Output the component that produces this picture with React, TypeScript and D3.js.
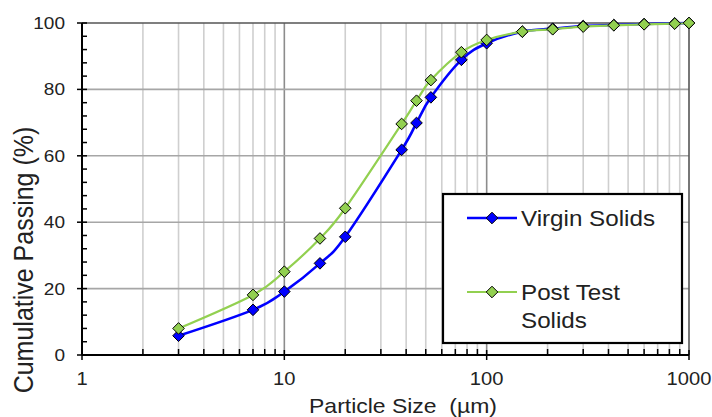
import React from 'react';
import * as d3 from 'd3';

// particle sizes (µm) and cumulative passing (%)
const sizes = [3, 7, 10, 15, 20, 38, 45, 53, 75, 100, 150, 212, 300, 425, 600, 850, 1000];
const virginSolids = [5.8, 13.6, 19.1, 27.6, 35.6, 61.8, 69.9, 77.6, 88.9, 93.9, 97.4, 98.3, 99.1, 99.4, 99.7, 99.9, 100];
const postTestSolids = [8.0, 18.1, 25.1, 35.1, 44.2, 69.6, 76.6, 82.8, 91.2, 94.9, 97.4, 98.1, 98.9, 99.3, 99.6, 99.8, 100];

const xTicks = [1, 10, 100, 1000];
const yTicks = [0, 20, 40, 60, 80, 100];

const series = [
  { name: 'Virgin Solids', values: virginSolids, color: '#0000FF', width: 2.6 },
  { name: 'Post Test Solids', values: postTestSolids, color: '#92D050', width: 2.2 },
];

const W = 712;
const H = 417;
const left = 82, right = 689, top = 23, bottom = 355;
const FONT = '"Liberation Sans", Arial, sans-serif';
const SX = 1.12; // horizontal stretch of the source picture

const diamond = (cx: number, cy: number, r: number) =>
  `M${cx},${cy - r}L${cx + r},${cy}L${cx},${cy + r}L${cx - r},${cy}Z`;

export default function App() {
  const x = d3.scaleLog().domain([1, 1000]).range([left, right]);
  const y = d3.scaleLinear().domain([0, 100]).range([bottom, top]);

  const minorX: number[] = [];
  [1, 10, 100].forEach(d => {
    for (let k = 2; k <= 9; k++) minorX.push(d * k);
  });
  const minorY = d3.range(0, 101, 4).filter(v => v % 20 !== 0);

  const line = d3.line<number>()
    .x((_, i) => x(sizes[i]))
    .y(d => y(d))
    .curve(d3.curveCatmullRom.alpha(0));

  return (
    <svg width={W} height={H} style={{ position: 'absolute', left: 0, top: 0, background: '#fff' }}>
      {/* grid */}
      {minorX.map(v => (
        <line key={'mx' + v} x1={x(v)} x2={x(v)} y1={top} y2={bottom} stroke="#cfcfcf" strokeWidth={1.6} />
      ))}
      {[10, 100].map(v => (
        <line key={'Mx' + v} x1={x(v)} x2={x(v)} y1={top} y2={bottom} stroke="#8c8c8c" strokeWidth={1.6} />
      ))}
      {yTicks.slice(1, -1).map(v => (
        <line key={'gy' + v} x1={left} x2={right} y1={y(v)} y2={y(v)} stroke="#a6a6a6" strokeWidth={1.6} />
      ))}
      <line x1={left} x2={right} y1={top} y2={top} stroke="#555" strokeWidth={1.6} />
      <line x1={right} x2={right} y1={top} y2={bottom} stroke="#555" strokeWidth={1.6} />

      {/* axes */}
      <line x1={left} x2={left} y1={top} y2={bottom} stroke="#000" strokeWidth={2} />
      <line x1={left} x2={right} y1={bottom} y2={bottom} stroke="#000" strokeWidth={2} />
      {yTicks.map(v => (
        <line key={'ty' + v} x1={left - 5} x2={left + 5} y1={y(v)} y2={y(v)} stroke="#000" strokeWidth={1.5} />
      ))}
      {minorY.map(v => (
        <line key={'tmy' + v} x1={left} x2={left + 5} y1={y(v)} y2={y(v)} stroke="#000" strokeWidth={1.5} />
      ))}
      {xTicks.map(v => (
        <line key={'tx' + v} x1={x(v)} x2={x(v)} y1={bottom - 5} y2={bottom + 5} stroke="#000" strokeWidth={1.5} />
      ))}
      {minorX.map(v => (
        <line key={'tmx' + v} x1={x(v)} x2={x(v)} y1={bottom - 6} y2={bottom} stroke="#000" strokeWidth={1.5} />
      ))}

      {/* tick labels */}
      {yTicks.map(v => (
        <text key={'ly' + v} transform={`translate(65,${y(v) + 6}) scale(${SX},1)`} textAnchor="end"
          fontFamily={FONT} fontSize={17} fill="#222">{v}</text>
      ))}
      {xTicks.map(v => (
        <text key={'lx' + v} transform={`translate(${x(v)},385) scale(${SX},1)`} textAnchor="middle"
          fontFamily={FONT} fontSize={18} fill="#222">{v}</text>
      ))}

      {/* axis titles */}
      <text transform={`translate(403,413) scale(${SX},1)`} textAnchor="middle" fontFamily={FONT} fontSize={20.5} fill="#222"
        style={{ whiteSpace: 'pre' }}>
        {'Particle Size  (µm)'}
      </text>
      <text transform={`translate(33,260) scale(${SX},1) rotate(-90)`} textAnchor="middle" fontFamily={FONT} fontSize={25} fill="#222">
        Cumulative Passing (%)
      </text>

      {/* series */}
      {series.map(s => (
        <g key={s.name}>
          <path d={line(s.values) || ''} fill="none" stroke={s.color} strokeWidth={s.width} />
          {s.values.map((v, i) => (
            <path key={i} d={diamond(x(sizes[i]), y(v), 5.8)} fill={s.color} stroke="#000" strokeWidth={1} />
          ))}
        </g>
      ))}

      {/* legend */}
      <rect x={443} y={194} width={239} height={149} fill="#fff" stroke="#000" strokeWidth={2.2} />
      <line x1={467} x2={517} y1={218} y2={218} stroke={series[0].color} strokeWidth={2.6} />
      <path d={diamond(492, 218, 5.8)} fill={series[0].color} stroke="#000" strokeWidth={1} />
      <text transform={`translate(521,226) scale(1.1,1)`} fontFamily={FONT} fontSize={22} fill="#222">Virgin Solids</text>
      <line x1={467} x2={517} y1={292} y2={292} stroke={series[1].color} strokeWidth={2.2} />
      <path d={diamond(492, 292, 5.8)} fill={series[1].color} stroke="#000" strokeWidth={1} />
      <text transform={`translate(521,300) scale(1.1,1)`} fontFamily={FONT} fontSize={22} fill="#222">Post Test</text>
      <text transform={`translate(521,328) scale(1.1,1)`} fontFamily={FONT} fontSize={22} fill="#222">Solids</text>
    </svg>
  );
}
